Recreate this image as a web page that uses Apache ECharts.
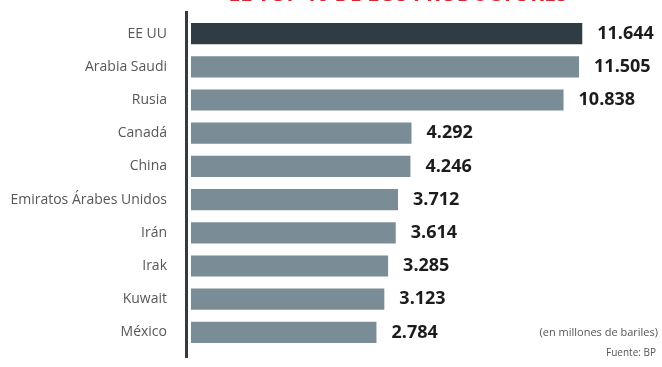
<!DOCTYPE html>
<html>
<head>
<meta charset="utf-8">
<script src="https://cdn.jsdelivr.net/npm/echarts@6/dist/echarts.min.js"></script>
<style>
html,body{margin:0;padding:0;background:#fff;}
#chart{width:662px;height:367px;}
</style>
</head>
<body>
<div id="chart"></div>
<script>
const categories = ['EE UU', 'Arabia Saudi', 'Rusia', 'Canadá', 'China', 'Emiratos Árabes Unidos', 'Irán', 'Irak', 'Kuwait', 'México'];
const values = [11.644, 11.505, 10.838, 4.292, 4.246, 3.712, 3.614, 3.285, 3.123, 2.784];
const titleText = 'EL TOP 10 DE LOS PRODUCTORES';
const unitNote = '(en millones de bariles)';
const sourceNote = 'Fuente: BP';

const xMin = -5.2, xMax = 14;
const darkColor = '#303c43';
const grayColor = '#7a8d96';

const chart = echarts.init(document.getElementById('chart'));
chart.setOption({
  animation: false,
  backgroundColor: '#ffffff',
  grid: { left: 191, right: 25, top: 17, bottom: 18, containLabel: false },
  xAxis: {
    type: 'value', min: xMin, max: xMax,
    show: false
  },
  yAxis: {
    type: 'category', data: categories, inverse: true,
    axisLine: { show: false }, axisTick: { show: false }, splitLine: { show: false },
    axisLabel: { margin: 24, fontSize: 14, color: '#575757', fontFamily: '"Open Sans", sans-serif' }
  },
  graphic: [
    { type: 'line', shape: { x1: 186.5, y1: 11, x2: 186.5, y2: 358 }, style: { stroke: darkColor, lineWidth: 3 }, z: 10 },
    { type: 'text', x: 398, y: -4.5, style: { text: titleText, fill: '#d8262f', font: 'bold 21px "Open Sans", sans-serif', align: 'center', verticalAlign: 'middle' } },
    { type: 'text', x: 658, y: 333, style: { text: unitNote, fill: '#555', font: '11px "Open Sans", sans-serif', align: 'right', verticalAlign: 'middle' } },
    { type: 'text', x: 656, y: 353, style: { text: sourceNote, fill: '#555', font: '10px "Open Sans", sans-serif', align: 'right', verticalAlign: 'middle' } }
  ],
  series: [{
    type: 'custom',
    encode: { x: 0, y: 1 },
    data: values.map((v, i) => [v, i]),
    renderItem: function (params, api) {
      const idx = api.value(1);
      const v = api.value(0);
      const start = api.coord([xMin, idx]);
      const end = api.coord([v, idx]);
      const h = api.size([0, 1])[1] * 0.64;
      return {
        type: 'group',
        children: [
          { type: 'rect', shape: { x: start[0], y: start[1] - h / 2, width: end[0] - start[0], height: h },
            style: { fill: idx === 0 ? darkColor : grayColor } },
          { type: 'text', x: end[0] + 15, y: end[1],
            style: { text: v.toFixed(3), fill: '#1c1c1c', font: 'bold 18px "Open Sans", sans-serif', align: 'left', verticalAlign: 'middle' } }
        ]
      };
    }
  }]
});
</script>
</body>
</html>
